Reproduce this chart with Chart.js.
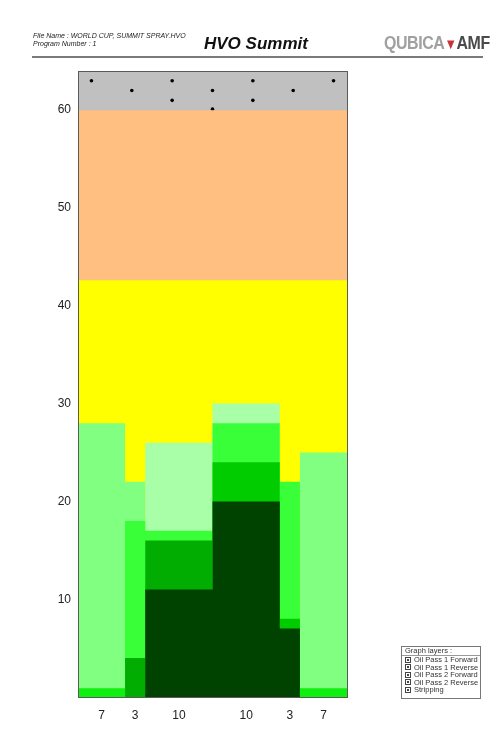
<!DOCTYPE html>
<html>
<head>
<meta charset="utf-8">
<script src="https://cdn.jsdelivr.net/npm/chart.js@4.4.1/dist/chart.umd.min.js"></script>
<style>
  body { margin: 0; background: #fff; font-family: "Liberation Sans", Arial, sans-serif; }
  #wrap { position: relative; width: 500px; height: 741px; overflow: hidden; }
  #laneChart { position: absolute; left: 0; top: 0; }
  .fileinfo { position: absolute; left: 33px; top: 32px; font-size: 7px; line-height: 7.5px; font-style: italic; color: #222; }
  .title { position: absolute; left: 204px; top: 34px; font-size: 17px; font-weight: bold; font-style: italic; color: #111; }
  .logo { position: absolute; left: 384px; top: 32px; font-size: 19px; font-weight: bold; letter-spacing: -0.5px; white-space: nowrap; transform: scaleX(0.84); transform-origin: left top; }
  .logo .q { color: #a0a0a0; }
  .logo .v { color: #c8323c; font-size: 15px; }
  .logo .a { color: #4a4a4a; }
  .rule { position: absolute; left: 32px; top: 56px; width: 451px; height: 2px; background: #7a7a7a; }
  .legend { position: absolute; left: 401px; top: 646px; width: 78px; height: 51px; border: 1px solid #777; font-size: 7.5px; color: #333; }
  .legend .head { height: 8px; line-height: 8px; padding-left: 3px; border-bottom: 1px solid #999; }
  .legend .item { height: 7.5px; line-height: 7.5px; padding-left: 3px; white-space: nowrap; }
  .legend .item:first-of-type { margin-top: 2px; }
  .legend .box { display: inline-block; width: 4px; height: 4px; border: 1px solid #444; margin-right: 3px; vertical-align: -0.5px; position: relative; }
  .legend .box:after { content: ""; position: absolute; left: 1px; top: 1px; width: 2px; height: 2px; background: #444; }
</style>
</head>
<body>
<div id="wrap">
  <canvas id="laneChart" width="500" height="741"></canvas>
  <div class="fileinfo">File Name : WORLD CUP, SUMMIT SPRAY.HVO<br>Program Number : 1</div>
  <div class="title">HVO Summit</div>
  <div class="logo"><span class="q">QUBICA</span><span class="v">&#9660;</span><span class="a">AMF</span></div>
  <div class="rule"></div>
  <div class="legend">
    <div class="head">Graph layers :</div>
    <div class="item"><span class="box"></span>Oil Pass 1 Forward</div>
    <div class="item"><span class="box"></span>Oil Pass 1 Reverse</div>
    <div class="item"><span class="box"></span>Oil Pass 2 Forward</div>
    <div class="item"><span class="box"></span>Oil Pass 2 Reverse</div>
    <div class="item"><span class="box"></span>Stripping</div>
  </div>
</div>
<script>
// board widths of each lane section (left to right), also the x labels
const segWidths = [7, 3, 10, 10, 3, 7];

// top of each colour layer in every section (feet)
const topGray   = [64, 64, 64, 64, 64, 64];
const topPeach  = [60, 60, 60, 60, 60, 60];
const topYellow = [42.6, 42.6, 42.6, 42.6, 42.6, 42.6];
const topPale   = [0, 0, 26, 30, 0, 0];
const topLight  = [28, 22, 0, 0, 0, 25];
const topBright = [0, 18, 17, 28, 22, 0];
const topMidA   = [0, 4, 16, 0, 0, 0];
const topMidB   = [0, 0, 0, 24, 8, 0];
const topDark   = [0, 0, 11, 20, 7, 0];
const topStrip  = [0.9, 0, 0, 0, 0, 0.9];

// little dots in the grey zone
const dotX = [2, 8, 14, 14, 20, 20, 26, 26, 32, 38];
const dotY = [63, 62, 63, 61, 62, 60.1, 63, 61, 62, 63];

const yTicks = [10, 20, 30, 40, 50, 60];

// section start positions
const segStart = [];
let acc = 0;
segWidths.forEach(w => { segStart.push(acc); acc += w; });
const laneWidth = acc;
const segCenter = segWidths.map((w, i) => segStart[i] + w / 2);

function stepPoints(tops) {
  const pts = tops.map((h, i) => ({ x: segStart[i], y: h }));
  pts.push({ x: laneWidth, y: tops[tops.length - 1] });
  return pts;
}

// back to front
const layers = [
  { tops: topGray, color: "#c0c0c0" },
  { dots: true },
  { tops: topPeach, color: "#ffbf80" },
  { tops: topYellow, color: "#ffff00" },
  { tops: topPale, color: "#a8ffa8" },
  { tops: topLight, color: "#80ff80" },
  { tops: topBright, color: "#38ff38" },
  { tops: topMidA, color: "#00ad00" },
  { tops: topMidB, color: "#00cc00" },
  { tops: topDark, color: "#004200" },
  { tops: topStrip, color: "#10f010" }
];

const datasets = layers.map((l, i) => {
  const order = layers.length - i;
  if (l.dots) {
    return {
      type: "scatter",
      data: dotX.map((x, k) => ({ x: x, y: dotY[k] })),
      backgroundColor: "#000",
      borderColor: "#000",
      pointRadius: 1.8,
      borderWidth: 0,
      order: order
    };
  }
  return {
    data: stepPoints(l.tops),
    stepped: "before",
    fill: "origin",
    backgroundColor: l.color,
    borderColor: "rgba(0,0,0,0)",
    borderWidth: 0,
    pointRadius: 0,
    tension: 0,
    order: order
  };
});

const boxPlugin = {
  id: "plotBox",
  afterDraw(chart) {
    const a = chart.chartArea;
    const c = chart.ctx;
    c.save();
    c.strokeStyle = "#5a5a5a";
    c.lineWidth = 1;
    c.strokeRect(Math.round(a.left) + 0.5, Math.round(a.top) + 0.5, Math.round(a.right - a.left), Math.round(a.bottom - a.top));
    c.restore();
  }
};

const ctx = document.getElementById("laneChart").getContext("2d");
const laneChart = new Chart(ctx, {
  type: "line",
  data: { datasets: datasets },
  plugins: [boxPlugin],
  options: {
    responsive: false,
    animation: false,
    devicePixelRatio: 1,
    layout: { padding: { left: 0, top: 71, right: 153, bottom: 14 } },
    plugins: { legend: { display: false }, tooltip: { enabled: false }, title: { display: false } },
    scales: {
      x: {
        type: "linear",
        min: 0,
        max: laneWidth,
        afterFit(scale) { scale.height = 30; },
        afterBuildTicks(scale) { scale.ticks = segCenter.map(v => ({ value: v })); },
        grid: { display: false, drawTicks: false },
        border: { display: false },
        ticks: {
          padding: 11,
          autoSkip: false,
          maxRotation: 0,
          color: "#222",
          font: { family: "Liberation Sans, Arial", size: 12 },
          callback: (v, i) => String(segWidths[i])
        }
      },
      y: {
        min: 0,
        max: 64,
        z: 1,
        afterFit(scale) { scale.width = 78; },
        afterBuildTicks(scale) { scale.ticks = yTicks.map(v => ({ value: v })); },
        grid: { drawTicks: false, color: "#3c3c3c", lineWidth: 1 },
        border: { display: false },
        ticks: {
          padding: 7,
          color: "#222",
          font: { family: "Liberation Sans, Arial", size: 12 }
        }
      }
    }
  }
});
</script>
</body>
</html>
